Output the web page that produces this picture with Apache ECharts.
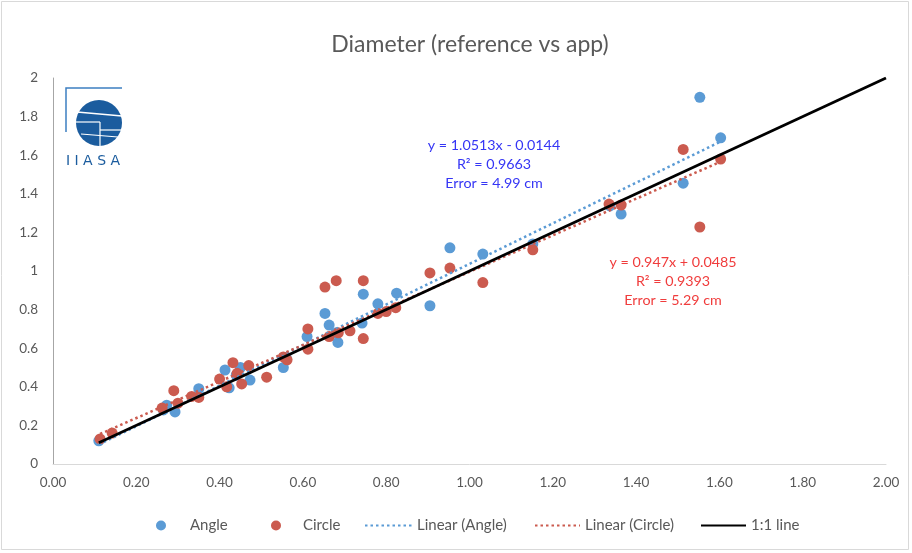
<!DOCTYPE html>
<html><head><meta charset="utf-8">
<script src="https://cdn.jsdelivr.net/npm/echarts@6/dist/echarts.min.js"></script>
<style>html,body{margin:0;padding:0;background:#fff}#c{width:912px;height:553px}</style>
</head><body><div id="c"></div>
<script>
const titleText = 'Diameter (reference vs app)';
const xTickLabels = ['0.00','0.20','0.40','0.60','0.80','1.00','1.20','1.40','1.60','1.80','2.00'];
const yTickLabels = ['0','0.2','0.4','0.6','0.8','1','1.2','1.4','1.6','1.8','2'];

const angleX = [0.11,0.265,0.273,0.293,0.35,0.413,0.423,0.44,0.45,0.473,0.553,0.56,0.61,0.653,0.663,0.684,0.68,0.742,0.745,0.78,0.825,0.905,0.953,1.032,1.152,1.337,1.364,1.513,1.553,1.603];
const angleY = [0.12,0.28,0.305,0.27,0.39,0.487,0.395,0.46,0.50,0.435,0.50,0.55,0.66,0.78,0.72,0.63,0.68,0.73,0.88,0.83,0.885,0.82,1.12,1.088,1.14,1.337,1.295,1.455,1.90,1.69];

const circleX = [0.113,0.142,0.262,0.29,0.30,0.333,0.35,0.40,0.417,0.432,0.442,0.453,0.47,0.513,0.553,0.562,0.612,0.612,0.653,0.663,0.68,0.685,0.713,0.745,0.745,0.78,0.80,0.823,0.905,0.953,1.032,1.152,1.335,1.364,1.513,1.553,1.603];
const circleY = [0.13,0.16,0.29,0.38,0.315,0.35,0.345,0.44,0.40,0.525,0.47,0.415,0.51,0.45,0.555,0.54,0.70,0.595,0.917,0.66,0.95,0.68,0.69,0.95,0.65,0.78,0.79,0.81,0.99,1.015,0.94,1.11,1.347,1.342,1.63,1.228,1.58];

const angleFitX = [0.11, 1.603];
const angleFitY = [0.1012, 1.6708];
const circleFitX = [0.113, 1.603];
const circleFitY = [0.1555, 1.5665];
const oneX = [0.11, 2.0];
const oneY = [0.11, 2.0];

const angleEq = ['y = 1.0513x - 0.0144', 'R² = 0.9663', 'Error = 4.99 cm'];
const circleEq = ['y = 0.947x + 0.0485', 'R² = 0.9393', 'Error = 5.29 cm'];

const seriesNames = ['Angle', 'Circle', 'Linear (Angle)', 'Linear (Circle)', '1:1 line'];

const BLUE = '#5b9bd5', RED = '#cb5b4f', GREY = '#595959';
const FONT = 'Lato';
const zip = (a, b) => a.map((v, i) => [v, b[i]]);

const chart = echarts.init(document.getElementById('c'), null, {renderer: 'canvas'});

const legendText = {color: GREY, fontSize: 15, fontFamily: FONT};
const legendBase = {top: 518, padding: 0, itemGap: 0, selectedMode: false, textStyle: legendText};

function eqText(lines, cx, y0, color) {
  return lines.map((t, i) => ({
    type: 'text', x: cx, y: y0 + i * 19,
    style: {text: t, x: 0, y: 0, textAlign: 'center', textVerticalAlign: 'middle',
      fill: color, fontSize: 14.3, fontFamily: FONT}
  }));
}

const logoBlue = '#1b5c9e';
const logo = {
  type: 'group', children: [
    {type: 'polyline', shape: {points: [[66, 132], [66, 88], [122, 88]]}, style: {stroke: '#3d7fc1', lineWidth: 1.5, fill: null}},
    {type: 'circle', shape: {cx: 99, cy: 123, r: 23}, style: {fill: logoBlue}},
    {type: 'line', shape: {x1: 77, y1: 112, x2: 122, y2: 116}, style: {stroke: '#fff', lineWidth: 1.5}},
    {type: 'line', shape: {x1: 76, y1: 122, x2: 100, y2: 122}, style: {stroke: '#fff', lineWidth: 1.2}},
    {type: 'line', shape: {x1: 100, y1: 122, x2: 100, y2: 146}, style: {stroke: '#fff', lineWidth: 1.2}},
    {type: 'line', shape: {x1: 100, y1: 130, x2: 122, y2: 130}, style: {stroke: '#fff', lineWidth: 1.2}},
    {type: 'line', shape: {x1: 81, y1: 134, x2: 118, y2: 137}, style: {stroke: '#fff', lineWidth: 1.2}},
    {type: 'text', x: 93, y: 161, style: {text: 'I I A S A', textAlign: 'center', textVerticalAlign: 'middle', fill: logoBlue, fontSize: 14, fontFamily: 'DejaVu Sans'}}
  ]
};

const option = {
  backgroundColor: '#fff',
  animation: false,
  title: {
    text: titleText, left: 465, top: 28, textAlign: 'center',
    textStyle: {color: GREY, fontSize: 23, fontWeight: 'normal', fontFamily: FONT}
  },
  grid: {left: 53, right: 26, top: 78, bottom: 89, containLabel: false},
  xAxis: {
    type: 'value', min: 0, max: 2, interval: 0.2,
    axisLine: {show: true, lineStyle: {color: '#d9d9d9', width: 1}},
    axisTick: {show: false},
    splitLine: {show: false},
    axisLabel: {color: GREY, fontSize: 13.5, fontFamily: FONT, margin: 12,
      formatter: v => xTickLabels[Math.round(v / 0.2)]}
  },
  yAxis: {
    type: 'value', min: 0, max: 2, interval: 0.2,
    axisLine: {show: true, lineStyle: {color: '#a6a6a6', width: 1}},
    axisTick: {show: false},
    splitLine: {show: false},
    axisLabel: {color: GREY, fontSize: 13.5, fontFamily: FONT, margin: 15,
      formatter: v => yTickLabels[Math.round(v / 0.2)]}
  },
  legend: [
    Object.assign({}, legendBase, {left: 156, data: [{name: seriesNames[0], icon: 'circle'}], itemWidth: 10, itemHeight: 10,
      textStyle: Object.assign({}, legendText, {padding: [0, 0, 0, 19]})}),
    Object.assign({}, legendBase, {left: 271, data: [{name: seriesNames[1], icon: 'circle'}], itemWidth: 10, itemHeight: 10,
      textStyle: Object.assign({}, legendText, {padding: [0, 0, 0, 17]})}),
    Object.assign({}, legendBase, {left: 364, data: [seriesNames[2]], itemWidth: 47, itemHeight: 10, itemStyle: {opacity: 0}}),
    Object.assign({}, legendBase, {left: 534, data: [seriesNames[3]], itemWidth: 45, itemHeight: 10, itemStyle: {opacity: 0}}),
    Object.assign({}, legendBase, {left: 700, data: [seriesNames[4]], itemWidth: 45, itemHeight: 10, itemStyle: {opacity: 0}})
  ],
  series: [
    {name: seriesNames[0], type: 'scatter', data: zip(angleX, angleY), symbolSize: 11, itemStyle: {color: BLUE, opacity: 1}, z: 2},
    {name: seriesNames[1], type: 'scatter', data: zip(circleX, circleY), symbolSize: 11, itemStyle: {color: RED, opacity: 1}, z: 3},
    {name: seriesNames[2], type: 'line', data: zip(angleFitX, angleFitY), symbol: 'none', z: 4,
      itemStyle: {color: BLUE}, lineStyle: {color: BLUE, width: 2.5, type: [2.5, 3]}},
    {name: seriesNames[3], type: 'line', data: zip(circleFitX, circleFitY), symbol: 'none', z: 4,
      itemStyle: {color: RED}, lineStyle: {color: RED, width: 2.5, type: [2.5, 3]}},
    {name: seriesNames[4], type: 'line', data: zip(oneX, oneY), symbol: 'none', z: 5,
      itemStyle: {color: '#000'}, lineStyle: {color: '#000', width: 2.8}}
  ],
  graphic: [
    {type: 'rect', shape: {x: 1.5, y: 1.5, width: 907, height: 548}, style: {fill: null, stroke: '#d9d9d9', lineWidth: 1}, silent: true},
    logo
  ].concat(eqText(angleEq, 494, 145, '#3535f5'), eqText(circleEq, 673, 262, '#f03c3c'))
};
chart.setOption(option);
</script>
</body></html>
